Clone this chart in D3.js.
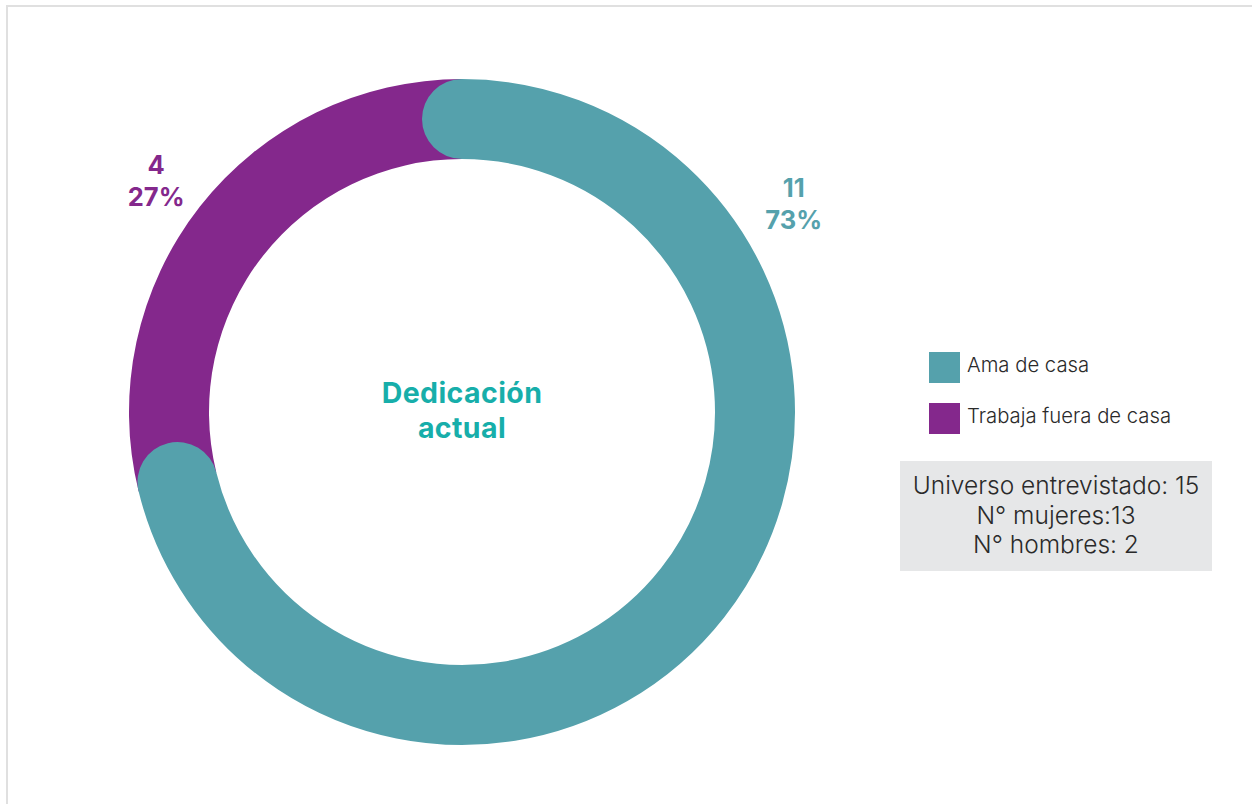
<!DOCTYPE html>
<html><head><meta charset="utf-8">
<script src="https://cdn.jsdelivr.net/npm/d3@7"></script>
<style>
html,body{margin:0;padding:0;background:#fff;}
svg{display:block;}
</style></head>
<body>
<svg id="chart" width="1252" height="804"></svg>
<script>
const categories = ["Ama de casa", "Trabaja fuera de casa"];
const values = [11, 4];
const percentLabels = ["73%", "27%"];
const colors = ["#55A1AC", "#84288C"];
const titleLines = ["Dedicación", "actual"];
const infoLines = ["Universo entrevistado: 15", "N° mujeres:13", "N° hombres: 2"];

const svg = d3.select("#chart");
const W = 1252, H = 804;

// frame
svg.append("path")
  .attr("d", `M7,${H} L7,6 L${W},6`)
  .attr("fill", "none").attr("stroke", "#e0e0e0").attr("stroke-width", 2);

const cx = 462, cy = 412;
const outerR = 333, innerR = 253;
const midR = (outerR + innerR) / 2, bandW = outerR - innerR;
const capAngle = (bandW / 2) / midR;

const pie = d3.pie().sort(null).value(d => d)(values);
const g = svg.append("g").attr("transform", `translate(${cx},${cy})`);

// purple segment (under), starting slightly earlier so the teal cap overlaps it
const arcGen = d3.arc().innerRadius(innerR).outerRadius(outerR);
g.append("path")
  .attr("d", arcGen({startAngle: pie[1].startAngle - capAngle, endAngle: pie[1].endAngle}))
  .attr("fill", colors[1]);

// teal segment as a round-capped stroke
const p = d3.path();
const a0 = pie[0].startAngle - Math.PI / 2;
const a1 = pie[0].endAngle - capAngle - Math.PI / 2;
p.arc(0, 0, midR, a0, a1, false);
g.append("path")
  .attr("d", p.toString())
  .attr("fill", "none")
  .attr("stroke", colors[0])
  .attr("stroke-width", bandW)
  .attr("stroke-linecap", "round");

// value labels
const labelPos = [
  {angle: 59 * Math.PI / 180, r: 387},
  {angle: 306 * Math.PI / 180, r: 378}
];
pie.forEach((d, i) => {
  const lp = labelPos[i];
  const x = lp.r * Math.sin(lp.angle), y = -lp.r * Math.cos(lp.angle);
  const t = g.append("text")
    .attr("text-anchor", "middle")
    .attr("font-family", "Inter, 'Noto Sans', sans-serif")
    .attr("font-weight", 700)
    .attr("font-size", 25.5)
    .attr("fill", colors[i]);
  t.append("tspan").attr("x", x).attr("y", y - 16).text(values[i]);
  t.append("tspan").attr("x", x).attr("y", y + 16).text(percentLabels[i]);
});

// center title
titleLines.forEach((s, i) => {
  g.append("text")
    .attr("text-anchor", "middle")
    .attr("font-family", "Inter, 'Noto Sans', sans-serif")
    .attr("font-weight", 700)
    .attr("font-size", 28.5)
    .attr("letter-spacing", 0.4)
    .attr("fill", "#17AEAA")
    .attr("x", 0).attr("y", -9 + i * 34.5)
    .text(s);
});

// legend
const lg = svg.append("g").attr("transform", "translate(929,352)");
categories.forEach((c, i) => {
  const row = lg.append("g").attr("transform", `translate(0,${i * 51})`);
  row.append("rect").attr("width", 31).attr("height", 31).attr("fill", colors[i]);
  row.append("text").attr("x", 38).attr("y", 20)
    .attr("font-family", "Inter, 'Noto Sans', sans-serif")
    .attr("font-weight", 300)
    .attr("font-size", 20.3)
    .attr("fill", "#2a2a2a")
    .text(c);
});

// info box
const bx = 900, by = 461, bw = 312, bh = 110;
svg.append("rect").attr("x", bx).attr("y", by).attr("width", bw).attr("height", bh).attr("fill", "#e6e7e8");
const it = svg.append("text")
  .attr("text-anchor", "middle")
  .attr("font-family", "Inter, 'Noto Sans', sans-serif")
  .attr("font-weight", 300)
  .attr("font-size", 24.5)
  .attr("fill", "#2a2a2a");
infoLines.forEach((s, i) => {
  it.append("tspan").attr("x", bx + bw / 2).attr("y", 494 + i * 29.5).text(s);
});
</script>
</body></html>
